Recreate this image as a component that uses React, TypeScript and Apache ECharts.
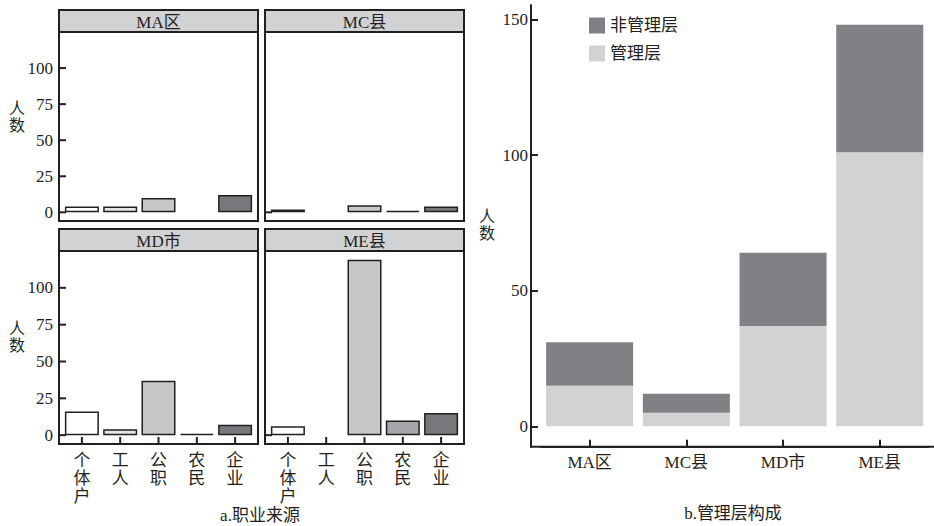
import React, { useEffect, useRef } from "react";
import * as echarts from "echarts";

const regions = ["MA区", "MC县", "MD市", "ME县"];
const occupations = ["个体户", "工人", "公职", "农民", "企业"];
const occMA = [4, 4, 10, null, 12];
const occMC = [2, null, 5, 1, 4];
const occMD = [16, 4, 37, 1, 7];
const occME = [6, null, 119, 10, 15];
const occByRegion = [occMA, occMC, occMD, occME];
const mgmt = [15, 5, 37, 101];
const nonMgmt = [16, 7, 27, 47];
const leftTicks = [0, 25, 50, 75, 100];
const rightTicks = [0, 50, 100, 150];

const occColors = ["#ffffff", "#e4e5e6", "#c6c7c9", "#a5a6a9", "#77787b"];
const FONT = '"Liberation Serif", "Noto Sans CJK SC", serif';
const INK = "#231f20";

export default function App() {
  const ref = useRef<HTMLDivElement>(null);
  useEffect(() => {
    if (!ref.current) return;
    const chart = echarts.init(ref.current, undefined, { renderer: "svg" });

    const PANEL_W = 199;
    const BAND_W = 191.5;
    const inset = (PANEL_W - BAND_W) / 2;
    const Y_MIN = -6;
    const Y_MAX = 125;
    const panels = [
      { left: 59, top: 32, height: 189 },
      { left: 265, top: 32, height: 189 },
      { left: 59, top: 251, height: 193 },
      { left: 265, top: 251, height: 193 },
    ];
    const grids: any[] = panels.map((p) => ({
      left: p.left + inset,
      top: p.top,
      width: BAND_W,
      height: p.height,
    }));
    grids.push({ left: 541.3, top: 5, width: 386.8, height: 441.7 });

    const tickStyle = { color: INK, width: 2 };
    const lineStyle = { color: INK, width: 2 };

    const xAxes: any[] = panels.map((_, i) => ({
      type: "category",
      gridIndex: i,
      data: occupations,
      z: 5,
      axisLine: { show: false, onZero: false },
      splitLine: { show: false },
      axisTick: { show: false },
      axisLabel: {
        show: i >= 2,
        interval: 0,
        formatter: (v: string) => v.split("").join("\n"),
        fontFamily: FONT,
        fontSize: 17,
        lineHeight: 18,
        color: INK,
        margin: 7,
        verticalAlign: "top",
      },
    }));
    xAxes.push({
      type: "category",
      gridIndex: 4,
      data: regions,
      z: 5,
      axisLine: { show: true, onZero: false, lineStyle },
      splitLine: { show: false },
      axisTick: {
        show: true,
        inside: true,
        length: 7,
        alignWithLabel: true,
        lineStyle: tickStyle,
      },
      axisLabel: {
        interval: 0,
        fontFamily: FONT,
        fontSize: 17,
        color: INK,
        margin: 7,
      },
    });

    const yAxes: any[] = panels.map((_, i) => ({
      type: "value",
      gridIndex: i,
      min: Y_MIN,
      max: Y_MAX,
      offset: inset,
      z: 5,
      axisLine: { show: false, onZero: false },
      splitLine: { show: false },
      axisTick: { show: false },
      axisLabel: {
        show: i % 2 === 0,
        customValues: leftTicks,
        fontFamily: FONT,
        fontSize: 17,
        color: INK,
        margin: 6,
      },
    }));
    yAxes.push({
      type: "value",
      gridIndex: 4,
      min: -7.5,
      max: 155.3,
      offset: 10.3,
      z: 5,
      axisLine: { show: true, onZero: false, lineStyle },
      splitLine: { show: false },
      axisTick: {
        show: true,
        inside: true,
        length: 7,
        customValues: rightTicks,
        lineStyle: tickStyle,
      },
      axisLabel: {
        customValues: rightTicks,
        fontFamily: FONT,
        fontSize: 17,
        color: INK,
        margin: 3,
      },
    });

    const series: any[] = occByRegion.map((vals, i) => ({
      type: "bar",
      name: regions[i],
      xAxisIndex: i,
      yAxisIndex: i,
      barWidth: 34,
      data: vals.map((v, j) =>
        v == null
          ? "-"
          : {
              value: v,
              itemStyle: {
                color: occColors[j],
                borderColor: INK,
                borderWidth: 1.5,
              },
            }
      ),
    }));
    series.push({
      type: "bar",
      name: "管理层",
      xAxisIndex: 4,
      yAxisIndex: 4,
      stack: "total",
      barWidth: 87,
      itemStyle: { color: "#d1d2d4" },
      data: mgmt,
    });
    series.push({
      type: "bar",
      name: "非管理层",
      xAxisIndex: 4,
      yAxisIndex: 4,
      stack: "total",
      barWidth: 87,
      itemStyle: { color: "#808184" },
      data: nonMgmt,
    });

    const graphic: any[] = [];
    const tickRect = (x: number, y: number, w: number, h: number) => ({
      type: "rect",
      shape: { x, y, width: w, height: h },
      style: { fill: INK },
      z: 20,
    });
    panels.forEach((p, i) => {
      const bottom = p.top + p.height;
      const yOf = (v: number) => p.top + (p.height * (Y_MAX - v)) / (Y_MAX - Y_MIN);
      const yVals = i % 2 === 0 ? leftTicks : [0];
      yVals.forEach((v) => graphic.push(tickRect(p.left, yOf(v) - 1, 7, 2)));
      if (i >= 2) {
        const band = BAND_W / occupations.length;
        occupations.forEach((_, j) => {
          const x = p.left + inset + band * (j + 0.5);
          graphic.push(tickRect(x - 1, bottom - 7, 2, 7));
        });
      }
      graphic.push({
        type: "rect",
        shape: { x: p.left, y: p.top, width: PANEL_W, height: p.height },
        style: { fill: "none", stroke: INK, lineWidth: 2 },
        z: 9,
      });
      const sy = p.top - 22;
      graphic.push({
        type: "rect",
        shape: { x: p.left, y: sy, width: PANEL_W, height: 22 },
        style: { fill: "#d1d2d4", stroke: INK, lineWidth: 2 },
        z: 10,
      });
      graphic.push({
        type: "text",
        x: p.left + PANEL_W / 2,
        y: sy + 12,
        style: {
          text: regions[i],
          fontFamily: FONT,
          fontSize: 17,
          fill: INK,
          align: "center",
          verticalAlign: "middle",
        },
        z: 11,
      });
    });
    const oneChar = (x: number, y: number, t: string) => ({
      type: "text",
      x,
      y,
      style: {
        text: t,
        fontFamily: FONT,
        fontSize: 16,
        fill: INK,
        align: "center",
        verticalAlign: "middle",
      },
    });
    const yName = (x: number, y: number) => {
      graphic.push(oneChar(x, y - 8.5, "人"));
      graphic.push(oneChar(x, y + 8.5, "数"));
    };
    yName(17, 117);
    yName(17, 337);
    yName(487, 225);
    graphic.push({
      type: "line",
      shape: { x1: 530, y1: 446.7, x2: 934, y2: 446.7 },
      style: { stroke: INK, lineWidth: 2 },
    });
    const title = (x: number, y: number, t: string) => ({
      type: "text",
      x,
      y,
      style: {
        text: t,
        fontFamily: FONT,
        fontSize: 17,
        fill: INK,
        align: "center",
        verticalAlign: "middle",
      },
    });
    graphic.push(title(260, 515, "a.职业来源"));
    graphic.push(title(733, 513, "b.管理层构成"));

    chart.setOption({
      animation: false,
      backgroundColor: "#fff",
      grid: grids,
      xAxis: xAxes,
      yAxis: yAxes,
      series,
      legend: {
        data: ["非管理层", "管理层"],
        orient: "vertical",
        left: 589,
        top: 17,
        padding: 0,
        itemWidth: 16,
        itemHeight: 16,
        itemGap: 11,
        icon: "rect",
        textStyle: { fontFamily: FONT, fontSize: 17, color: INK },
      },
      graphic,
    });
    return () => chart.dispose();
  }, []);
  return (
    <div
      ref={ref}
      style={{ position: "fixed", left: 0, top: 0, width: 934, height: 526 }}
    />
  );
}
